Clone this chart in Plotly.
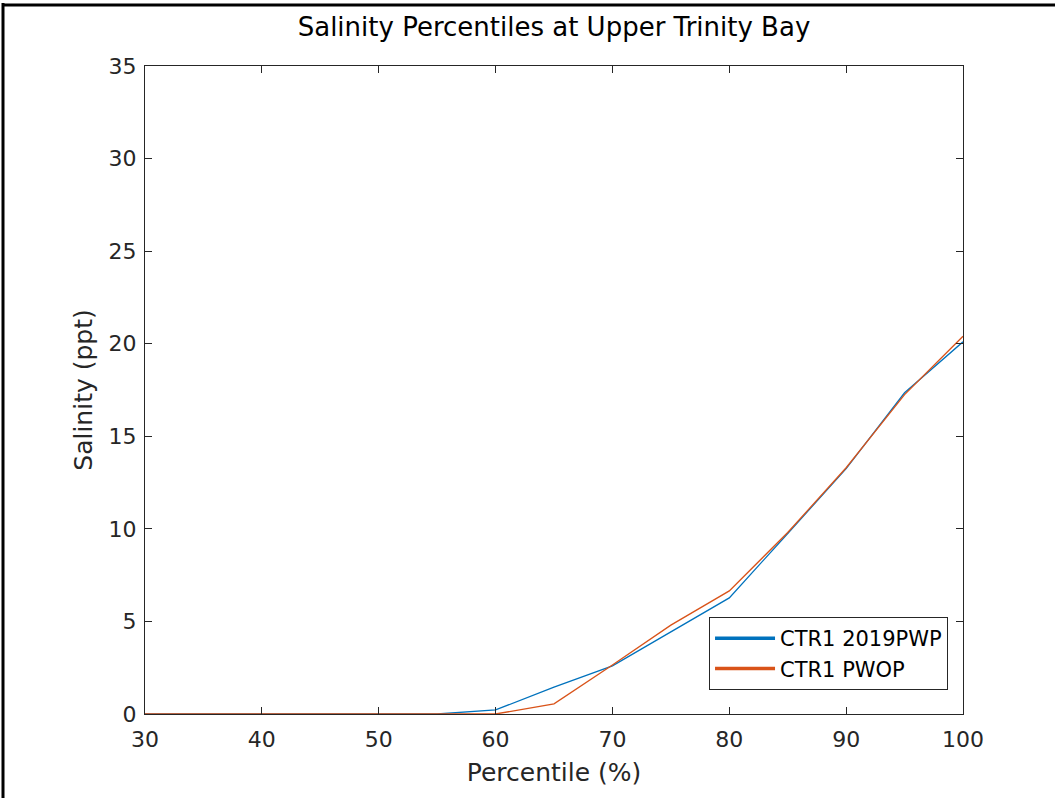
import plotly.graph_objects as go

percentile = [30, 35, 40, 45, 50, 55, 60, 65, 70, 75, 80, 85, 90, 95, 100]
ctr1_2019pwp = [0, 0, 0, 0, 0, 0, 0.22, 1.45, 2.6, 4.45, 6.27, 9.75, 13.25, 17.35, 20.1]
ctr1_pwop = [0, 0, 0, 0, 0, 0, 0.0, 0.55, 2.65, 4.8, 6.65, 9.8, 13.3, 17.25, 20.4]
series_names = ["CTR1 2019PWP", "CTR1 PWOP"]

xticks = [30, 40, 50, 60, 70, 80, 90, 100]
yticks = [0, 5, 10, 15, 20, 25, 30, 35]

FONT = "DejaVu Sans, Liberation Sans, Arial, sans-serif"
AX = "#262626"
COLORS = ["#0072BD", "#D95319"]

fig = go.Figure()
for name, vals, col in zip(series_names, [ctr1_2019pwp, ctr1_pwop], COLORS):
    fig.add_trace(go.Scatter(x=percentile, y=vals, mode="lines", name=name,
                             legendgroup=name, showlegend=False,
                             line=dict(color=col, width=1.3)))
# legend entries with thicker line samples (as in the reference legend)
for name, col in zip(series_names, COLORS):
    fig.add_trace(go.Scatter(x=[None], y=[None], mode="lines", name=name,
                             legendgroup=name, showlegend=True,
                             line=dict(color=col, width=3.5)))

axis_common = dict(showgrid=False, zeroline=False, showline=True, linecolor=AX, linewidth=1,
                   mirror="ticks", ticks="inside", ticklen=7, tickcolor=AX,
                   tickfont=dict(family=FONT, size=22, color=AX))

fig.update_xaxes(range=[30, 100], tickvals=xticks, ticktext=[str(v) for v in xticks],
                 ticklabelstandoff=6,
                 title=dict(text="Percentile (%)", font=dict(family=FONT, size=25, color=AX), standoff=12),
                 **axis_common)
fig.update_yaxes(range=[0, 35], tickvals=yticks, ticktext=[str(v) for v in yticks],
                 ticklabelstandoff=3,
                 title=dict(text="Salinity (ppt)", font=dict(family=FONT, size=25, color=AX), standoff=8),
                 **axis_common)

fig.update_layout(
    width=1055, height=798,
    margin=dict(l=145, r=92, t=66, b=84),
    paper_bgcolor="white", plot_bgcolor="white",
    title=dict(text="Salinity Percentiles at Upper Trinity Bay", x=0.5, xref="paper",
               y=1 - 27 / 798, yanchor="middle",
               font=dict(family=FONT, size=26, color="black")),
    legend=dict(x=0.9817, xanchor="right", y=0.037, yanchor="bottom",
                bgcolor="white", bordercolor=AX, borderwidth=1,
                font=dict(family=FONT, size=21, color="black"),
                itemwidth=60, tracegroupgap=0),
    showlegend=True,
)

# outer frame lines (left and top) as seen in the reference image
fig.add_shape(type="line", xref="paper", yref="paper",
              x0=(3 - 145) / 818, x1=(3 - 145) / 818, y0=(714 - 800) / 648, y1=(714 - 3) / 648,
              line=dict(color="black", width=3))
fig.add_shape(type="line", xref="paper", yref="paper",
              x0=(3 - 145) / 818, x1=(1057 - 145) / 818, y0=(714 - 5) / 648, y1=(714 - 5) / 648,
              line=dict(color="black", width=3))

fig.write_html("out.html", config={"displayModeBar": False},
               post_script="document.body.style.margin='0';")
